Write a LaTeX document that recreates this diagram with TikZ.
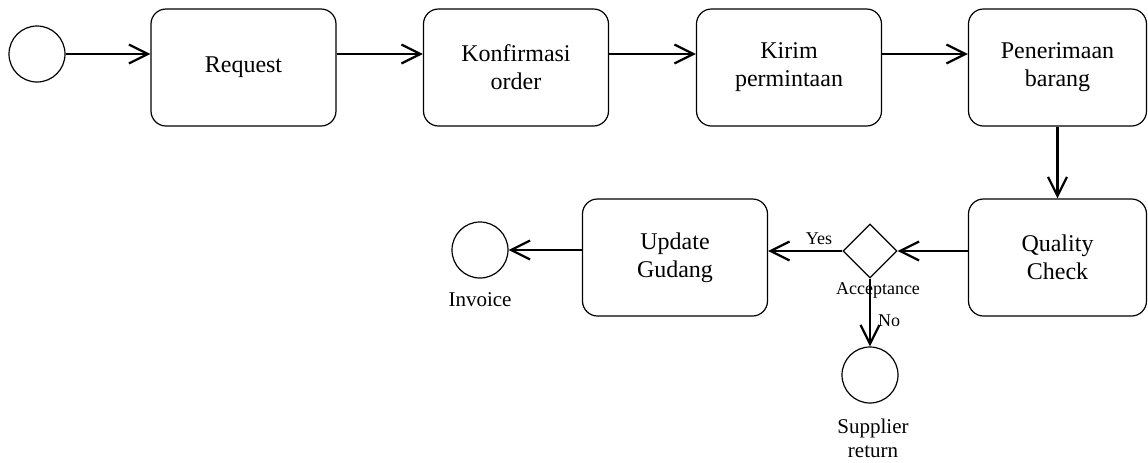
\documentclass[tikz,border=0pt]{standalone}
\usepackage{fontspec}
\setmainfont{Liberation Serif}
\usetikzlibrary{arrows.meta,shapes.geometric}
\begin{document}
\begin{tikzpicture}[x=0.5pt,y=-0.5pt,
    act/.style={draw,line width=0.6pt,rounded corners=7.5pt,minimum width=92.5pt,minimum height=58.5pt,
      align=center,font=\fontsize{12}{14}\selectfont},
    ev/.style={draw,circle,line width=0.6pt,minimum size=28pt,inner sep=0pt},
    gate/.style={draw,diamond,line width=0.6pt,minimum width=27pt,minimum height=27pt,inner sep=0pt},
    lbl/.style={font=\fontsize{9}{10}\selectfont,inner sep=0pt},
    evlbl/.style={font=\fontsize{10.5}{12}\selectfont,align=center,inner sep=0pt},
    flow/.style={-{Straight Barb[length=9.5pt,width=9.5pt]},line width=1.1pt}]
  \useasboundingbox (0,0) rectangle (1148,462);
  \draw
    (37,54) node[ev] (s0){}
    (243.5,67.5) node[act] (req){Request}
    (516,67.5) node[act] (konf){Konfirmasi\\order}
    (789,67.5) node[act] (kirim){Kirim\\permintaan}
    (1057.5,67.5) node[act,minimum width=89pt] (terima){Penerimaan\\barang}
    (1057.5,257.5) node[act,minimum width=89pt] (qc){Quality\\Check}
    (870,251) node[gate] (acc){}
    (675,257.5) node[act] (upd){Update\\Gudang}
    (480,250) node[ev] (inv){}
    (870,375) node[ev] (ret){};
  \draw
    (878,290) node[lbl] (acclbl){Acceptance}
    (819,239) node[lbl] (yes){Yes}
    (889,321) node[lbl] (no){No}
    (480,300) node[evlbl] (invlbl){Invoice}
    (873,438) node[evlbl] (retlbl){Supplier\\return};
  \begin{scope}[flow]
    \draw (s0) to (req.west |- s0);
    \draw (req.east |- s0) to (konf.west |- s0);
    \draw (konf.east |- s0) to (kirim.west |- s0);
    \draw (kirim.east |- s0) to (terima.west |- s0);
    \draw (terima) ++(0,59) coordinate (t1) (t1) to (t1 |- qc.north);
    \draw (qc.west |- acc) to (acc.east);
    \draw (acc.west) to (upd.east |- acc);
    \draw (upd.west |- inv) to (inv);
    \draw (acc.south) to (ret.north);
  \end{scope}
\end{tikzpicture}
\end{document}
